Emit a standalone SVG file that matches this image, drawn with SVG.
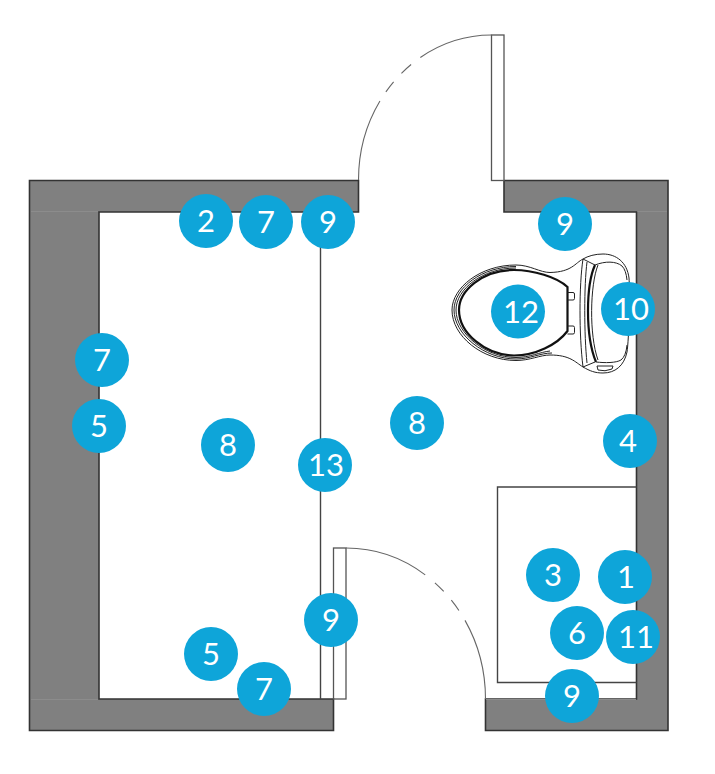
<svg xmlns="http://www.w3.org/2000/svg" width="715" height="774" viewBox="0 0 715 774">
<style>
.wall{fill:#808080;stroke:#333;stroke-width:1.6;stroke-linejoin:miter}
.seam{fill:none;stroke:#8c8c8c;stroke-width:1}
.line{fill:none;stroke:#444;stroke-width:1.4}
.swing{fill:none;stroke:#666;stroke-width:1.1}
.leaf{fill:none;stroke:#555;stroke-width:1.3}
.t{fill:none;stroke:#222;stroke-width:1}
.t2{fill:none;stroke:#111;stroke-width:2.2}
circle{fill:#0ea5d9}
text{font-family:"Lato","Open Sans",sans-serif;font-size:31px;fill:#fff;text-anchor:middle}
</style>
<rect width="715" height="774" fill="#fff"/>
<g id="walls">
<path class="wall" d="M29.500 180.500H358.500V212H99V699H333.500V730.500H29.500Z"/>
<path class="wall" d="M504 180.500H668V730.500H485.500V699H636.500V212H504Z"/>
<path class="seam" d="M31 211.500H98M637.500 211.500H667M486 699.500H636M31 699.500H98"/>
</g>
<g id="fixtures">
<path class="line" d="M320.500 212V699"/>
<path class="line" d="M636.500 487H497.500V682.500H636.500"/>
</g>
<g id="door-top">
<rect x="491.500" y="35" width="12.500" height="145.500" fill="#fff"/>
<rect class="leaf" x="491.500" y="35" width="12.500" height="145.500"/>
<path class="swing" pathLength="100" stroke-dasharray="37.9 5 5.800 5.300 6 5.300 40" d="M358.500 180C358.500 100 418 35 491.500 35"/>
</g>
<g id="door-bottom">
<rect class="leaf" x="333.500" y="548" width="12.500" height="151"/>
<path class="swing" pathLength="100" stroke-dasharray="37.300 5.500 5.400 5.100 5.600 5.100 40" d="M346 548C423 548 485.500 616 485.500 699"/>
</g>
<g id="toilet">
<path fill="#fff" class="t" d="M583 259C575 263 572 272 550 272.500C540 272.500 530 265 516 265C480 265 452 288 452 310C452 336 482 360.500 516 360.500C530 360.500 540 355 550 355C570 355 575 362 583 367C590 371 595 373 603 373C615 373 624 366 627 352C629 340 630 290 629 278C627 262 616 254 603 254C595 254 588 256 583 259Z"/>
<path class="t" d="M516 266.500C482 266.500 454 288 454 310C454 334 484 359 516 359C530 359 540 353 552 353"/>
<path class="t" d="M516 268C483 268 456 289 456 310C456 333 485 357.500 516 357.500C530 357.500 540 352 550 351"/>
<path class="t2" d="M567.500 287C557 277 533 270 514 270C482 270 459 291 459 310C459 333 485 355 514 355.500C535 355.500 557 345 567.500 331Z"/>
<path class="t" d="M567.500 292.500H573Q574.500 292.500 574.500 294V298.500Q574.500 300 573 300H567.500M567.500 326H573Q574.500 326 574.500 327.500V332.500Q574.500 334 573 334H567.500"/>
<path class="t" d="M583 259C579 285 579 335 583 367M587 262C584 285 584 335 587 363"/>
<path class="t" d="M583 259L595 265M583 367L595 362"/>
<path class="t2" d="M595 265C586 285 585 335 596 362"/>
<path class="t" d="M598 265C590 285 589 335 598 360M595 265C605 261 616 261 622 266Q626 270 627 280M596 362C605 363 616 363 621 360Q626 356 627 345"/>
<path class="t" d="M597 366H613L612 369Q605 372 598 370Z"/>
</g>
<g id="n2"><circle cx="206" cy="221" r="27"/><text x="206" y="232">2</text></g>
<g id="n7a"><circle cx="266" cy="222" r="27"/><text x="266" y="233">7</text></g>
<g id="n9a"><circle cx="328" cy="222" r="27"/><text x="328" y="233">9</text></g>
<g id="n9b"><circle cx="565" cy="224" r="27"/><text x="565" y="235">9</text></g>
<g id="n12"><circle cx="518" cy="311.500" r="27"/><text x="521" y="323">12</text></g>
<g id="n10"><circle cx="628" cy="309" r="27"/><text x="631" y="320">10</text></g>
<g id="n7b"><circle cx="102" cy="360" r="27"/><text x="102" y="371">7</text></g>
<g id="n5a"><circle cx="99" cy="426" r="27"/><text x="99" y="437">5</text></g>
<g id="n8a"><circle cx="228" cy="445" r="27"/><text x="228" y="456">8</text></g>
<g id="n13"><circle cx="325" cy="465" r="27"/><text x="326" y="476">13</text></g>
<g id="n8b"><circle cx="417" cy="423" r="27"/><text x="417" y="434">8</text></g>
<g id="n4"><circle cx="630" cy="441" r="27"/><text x="628" y="452">4</text></g>
<g id="n3"><circle cx="553" cy="575" r="27"/><text x="553" y="586">3</text></g>
<g id="n1"><circle cx="625" cy="577" r="27"/><text x="626" y="588">1</text></g>
<g id="n6"><circle cx="577" cy="633" r="27"/><text x="577" y="644">6</text></g>
<g id="n11"><circle cx="633" cy="637" r="27"/><text x="636" y="648">11</text></g>
<g id="n9c"><circle cx="331" cy="620" r="27"/><text x="331" y="631">9</text></g>
<g id="n5b"><circle cx="211" cy="654" r="27"/><text x="211" y="665">5</text></g>
<g id="n7c"><circle cx="264" cy="689" r="27"/><text x="264" y="700">7</text></g>
<g id="n9d"><circle cx="572" cy="696" r="27"/><text x="572" y="707">9</text></g>
</svg>
